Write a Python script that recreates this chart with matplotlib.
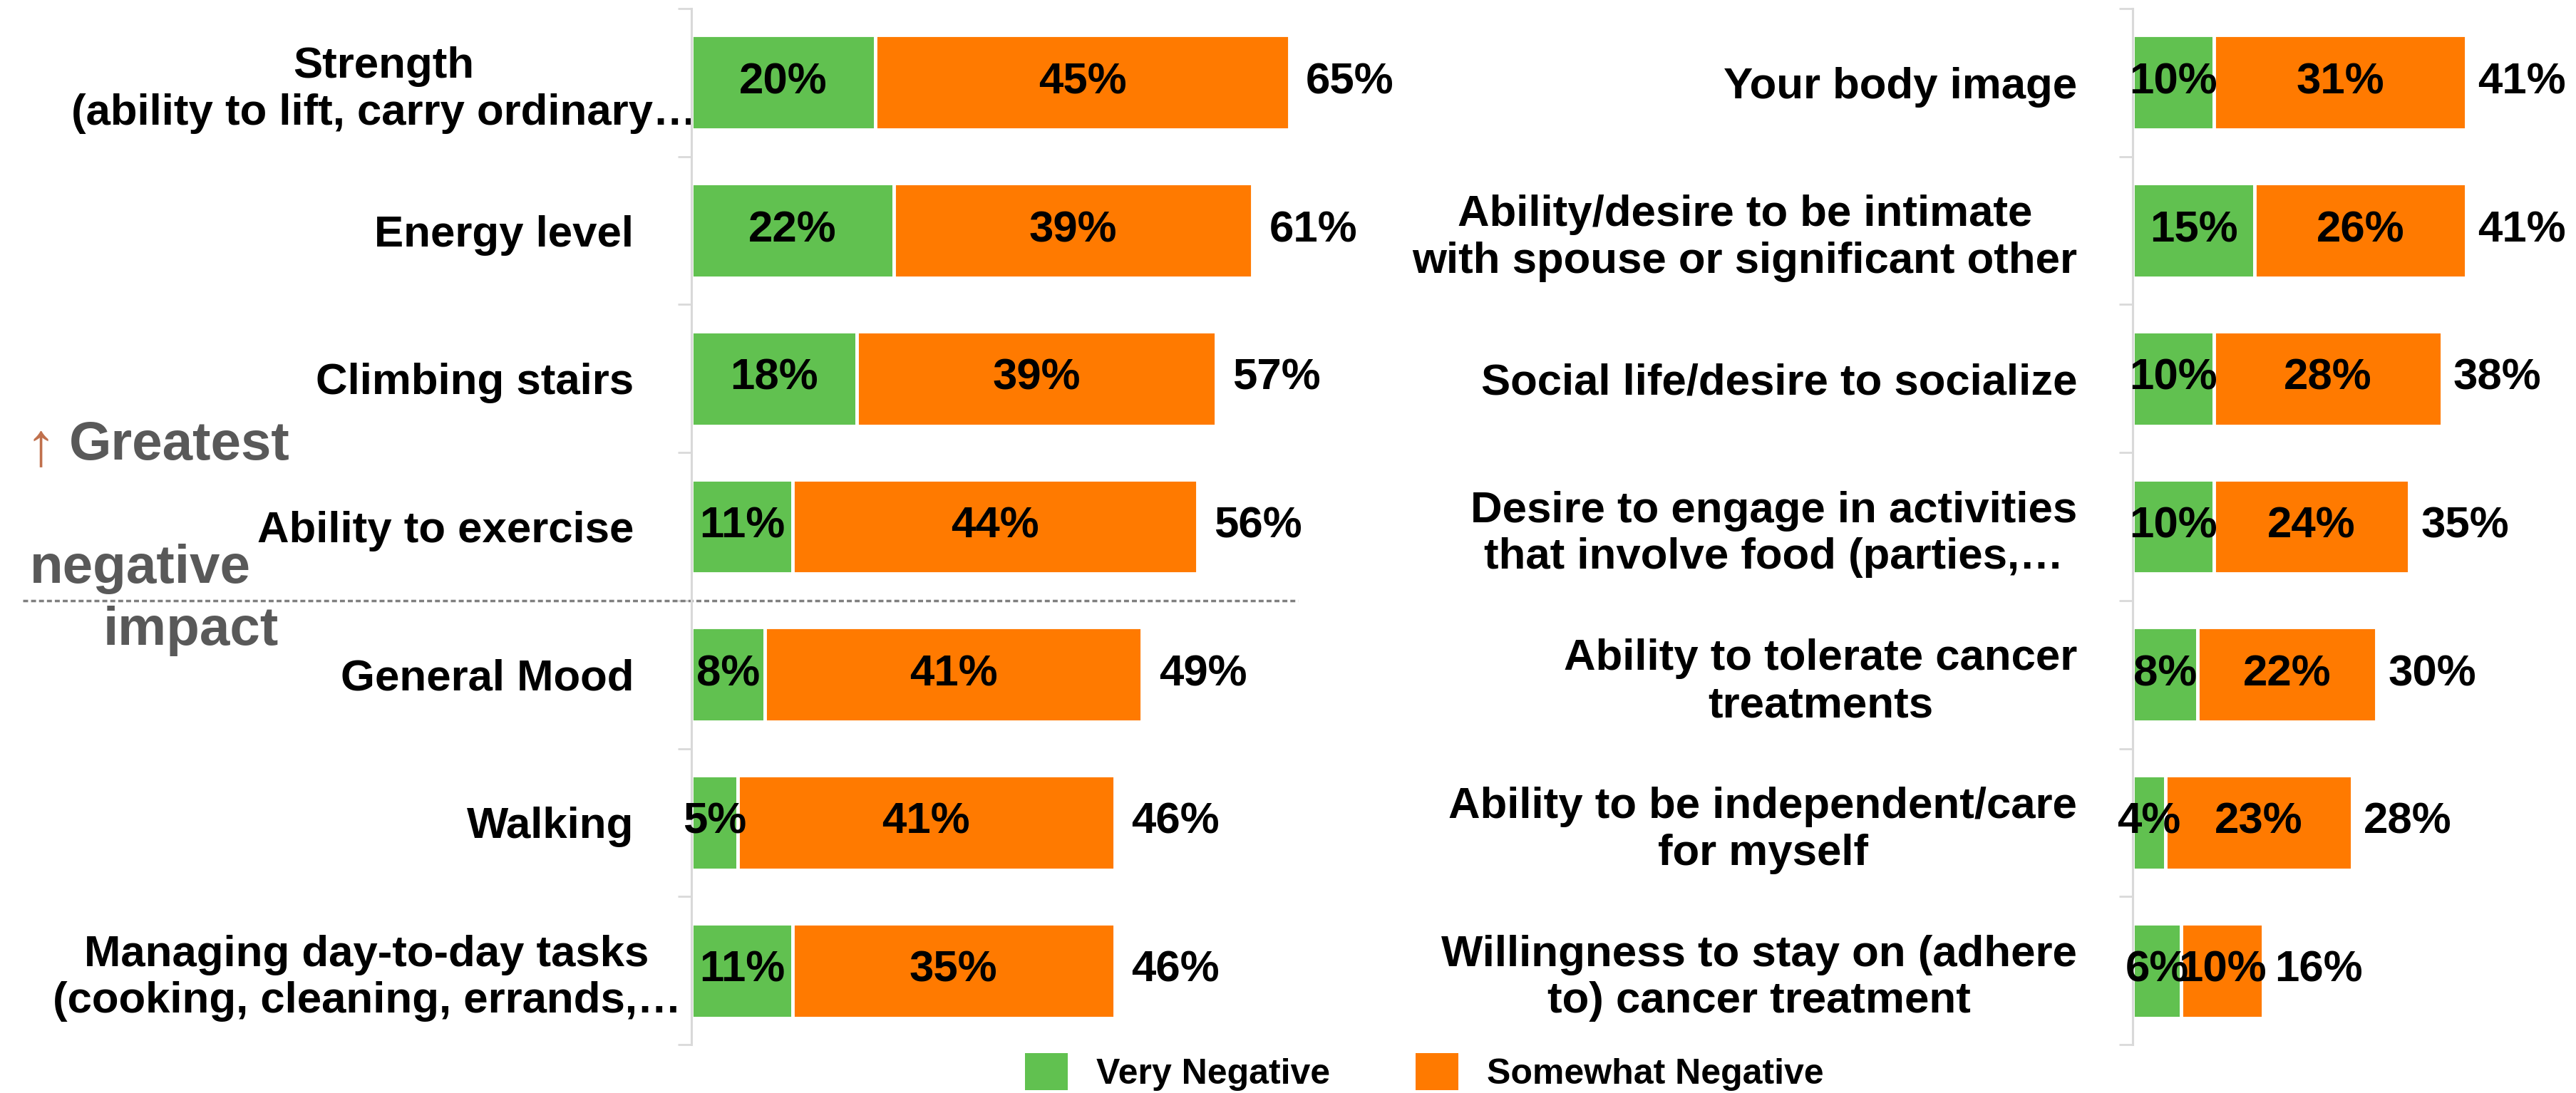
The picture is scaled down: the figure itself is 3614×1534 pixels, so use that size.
import matplotlib
matplotlib.use("Agg")
import matplotlib.pyplot as plt
import matplotlib.transforms as mtransforms
from matplotlib.patches import Patch
import numpy as np

plt.rcParams['font.family'] = ['Liberation Sans', 'DejaVu Sans']

# ---------------- data ----------------
left_categories = [
    "Strength\n(ability to lift, carry ordinary…",
    "Energy level",
    "Climbing stairs",
    "Ability to exercise",
    "General Mood",
    "Walking",
    "Managing day-to-day tasks\n(cooking, cleaning, errands,…",
]
left_very = [20, 22, 18, 11, 8, 5, 11]
left_somewhat = [45, 39, 39, 44, 41, 41, 35]
left_total = [65, 61, 57, 56, 49, 46, 46]

right_categories = [
    "Your body image",
    "Ability/desire to be intimate\nwith spouse or significant other",
    "Social life/desire to socialize",
    "Desire to engage in activities\nthat involve food (parties,…",
    "Ability to tolerate cancer\ntreatments",
    "Ability to be independent/care\nfor myself",
    "Willingness to stay on (adhere\nto) cancer treatment",
]
right_very = [10, 15, 10, 10, 8, 4, 6]
right_somewhat = [31, 26, 28, 24, 22, 23, 10]
right_total = [41, 41, 38, 35, 30, 28, 16]

series_names = ["Very Negative", "Somewhat Negative"]

GREEN = "#61C150"
ORANGE = "#FF7A00"
SPINE = "#D9D9D9"
FS = 44.5

W, H = 3614, 1534
fig = plt.figure(figsize=(W / 100, H / 100), dpi=100)

ax_bottom = (1534 - 1466) / H
ax_height = (1466 - 12) / H
axL = fig.add_axes([970 / W, ax_bottom, 897 / W, ax_height])
axR = fig.add_axes([2992 / W, ax_bottom, (W - 2992) / W, ax_height])


def draw(ax, cats, very, some, tot, xmax):
    y = np.arange(len(cats))
    very = np.array(very)
    some = np.array(some)
    ax.barh(y, very, height=0.64, color=GREEN, edgecolor="white", linewidth=3.5)
    ax.barh(y, some, left=very, height=0.64, color=ORANGE, edgecolor="white", linewidth=3.5)
    for yi, v, s, t in zip(y, very, some, tot):
        ax.text(v / 2, yi, f"{v}%", ha="center", va="center", fontsize=FS,
                fontweight="bold", color="black")
        ax.text(v + s / 2, yi, f"{s}%", ha="center", va="center", fontsize=FS,
                fontweight="bold", color="black")
        ax.text(v + s + xmax * 0.026, yi, f"{t}%", ha="left", va="center",
                fontsize=FS, fontweight="bold", color="black")
    ax.set_xlim(0, xmax)
    ax.set_ylim(len(cats) - 0.5, -0.5)
    ax.set_yticks(y)
    ax.set_yticklabels(cats, fontsize=FS, fontweight="bold", multialignment="center")
    ax.set_yticks(np.arange(len(cats) + 1) - 0.5, minor=True)
    ax.tick_params(axis="y", which="major", length=0, pad=0)
    ax.tick_params(axis="y", which="minor", length=14, width=2, color=SPINE)
    ax.set_xticks([])
    for s in ["top", "right", "bottom"]:
        ax.spines[s].set_visible(False)
    ax.spines["left"].set_color(SPINE)
    ax.spines["left"].set_linewidth(2.2)


draw(axL, left_categories, left_very, left_somewhat, left_total, 69.5)
draw(axR, right_categories, right_very, right_somewhat, right_total, 54.5)
axL.tick_params(axis="y", which="major", pad=58)
axR.tick_params(axis="y", which="major", pad=56)

# the two truncated long labels overflow further toward the axis in the original
shifts = {0: 88, 6: 66}  # pixels
for idx, lab in enumerate(axL.get_yticklabels()):
    if idx in shifts:
        off = mtransforms.ScaledTranslation(shifts[idx] / 100, 0, fig.dpi_scale_trans)
        lab.set_transform(lab.get_transform() + off)

# dashed separator line between 4th and 5th category (left panel)
trans = mtransforms.blended_transform_factory(fig.transFigure, axL.transData)
axL.plot([32 / W, 1821 / W], [3.5, 3.5], transform=trans, clip_on=False,
         color="#7F7F7F", linestyle=(0, (2.0, 1.2)), linewidth=2.5)

# annotation text
GRAY = "#595959"
fig.text(36 / W, 1 - 652 / H, "↑", color="#C0704D", fontsize=62, ha="left",
         va="baseline", fontweight="normal")
fig.text(97 / W, 1 - 645 / H, "Greatest", color=GRAY, fontsize=55, ha="left",
         va="baseline", fontweight="bold")
fig.text(42 / W, 1 - 818 / H, "negative", color=GRAY, fontsize=55, ha="left",
         va="baseline", fontweight="bold")
fig.text(145 / W, 1 - 905 / H, "impact", color=GRAY, fontsize=55, ha="left",
         va="baseline", fontweight="bold")

# legend
handles = [Patch(facecolor=GREEN, edgecolor="none"),
           Patch(facecolor=ORANGE, edgecolor="none")]
fig.legend(handles, series_names, loc="lower center",
           bbox_to_anchor=(1998 / W, 0.002), ncol=2, frameon=False,
           prop={"size": 36, "weight": "bold"}, handlelength=1.2,
           handleheight=1.2, handletextpad=0.8, columnspacing=2.4,
           borderaxespad=0, borderpad=0)

fig.savefig("out.png", dpi=100, facecolor="white")
